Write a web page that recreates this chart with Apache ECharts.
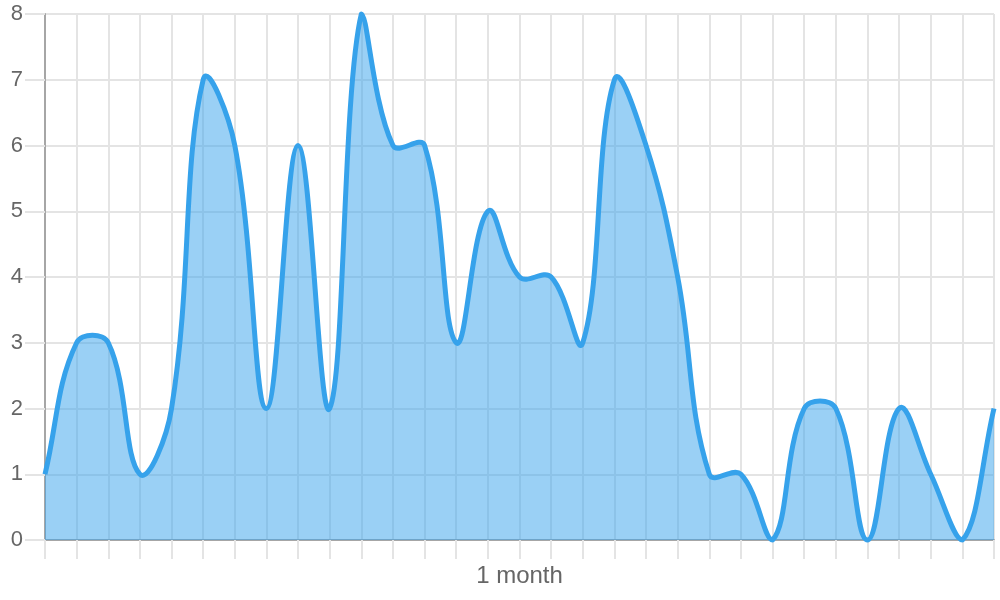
<!DOCTYPE html>
<html>
<head>
<meta charset="utf-8">
<script src="https://cdn.jsdelivr.net/npm/echarts@6/dist/echarts.min.js"></script>
<style>
html,body{margin:0;padding:0;background:#fff;}
#chart{width:1000px;height:600px;}
</style>
</head>
<body>
<div id="chart"></div>
<script>
var days = [];
for (var i = 0; i <= 30; i++) { days.push(String(i)); }
var values = [1, 3, 3, 1, 2, 7, 6, 2, 6, 2, 8, 6, 6, 3, 5, 4, 4, 3, 7, 6, 4, 1, 1, 0, 2, 2, 0, 2, 1, 0, 2];
var xAxisTitle = '1 month';
var yTicks = { min: 0, max: 8, interval: 1 };

var TENSION = 0.4;

// Chart.js-style cardinal spline control points, computed in pixel space
function controlPoints(pts, area) {
  var n = pts.length, cps = [];
  for (var i = 0; i < n; i++) {
    var cur = pts[i];
    var prev = pts[i - 1] || cur;
    var next = pts[i + 1] || cur;
    var d01 = Math.hypot(cur[0] - prev[0], cur[1] - prev[1]);
    var d12 = Math.hypot(next[0] - cur[0], next[1] - cur[1]);
    var s01 = d01 / (d01 + d12), s12 = d12 / (d01 + d12);
    if (!isFinite(s01)) s01 = 0;
    if (!isFinite(s12)) s12 = 0;
    var fa = TENSION * s01, fb = TENSION * s12;
    var cpP = [cur[0] - fa * (next[0] - prev[0]), cur[1] - fa * (next[1] - prev[1])];
    var cpN = [cur[0] + fb * (next[0] - prev[0]), cur[1] + fb * (next[1] - prev[1])];
    [cpP, cpN].forEach(function (c) {
      c[0] = Math.max(area.x, Math.min(area.x + area.width, c[0]));
      c[1] = Math.max(area.y, Math.min(area.y + area.height, c[1]));
    });
    cps.push({ prev: cpP, next: cpN });
  }
  return cps;
}

var chart = echarts.init(document.getElementById('chart'), null, { renderer: 'canvas' });
var font = "'Liberation Sans', Arial, sans-serif";
chart.setOption({
  animation: false,
  backgroundColor: '#ffffff',
  grid: { left: 45, right: 6, top: 14, bottom: 60, containLabel: false },
  xAxis: {
    type: 'category',
    data: days,
    boundaryGap: false,
    name: xAxisTitle,
    nameLocation: 'middle',
    nameGap: 24,
    nameTextStyle: { color: '#666666', fontSize: 24, fontFamily: font },
    axisLine: { show: true, lineStyle: { color: '#a6a6a6', width: 2 } },
    axisTick: { show: true, length: 19, interval: 0, lineStyle: { color: '#e4e4e4', width: 2 } },
    axisLabel: { show: false },
    splitLine: { show: true, interval: 0, lineStyle: { color: '#e4e4e4', width: 2 } }
  },
  yAxis: {
    type: 'value',
    min: yTicks.min,
    max: yTicks.max,
    interval: yTicks.interval,
    axisLine: { show: true, lineStyle: { color: '#a6a6a6', width: 2 } },
    axisTick: { show: true, length: 20, lineStyle: { color: '#e4e4e4', width: 2 } },
    axisLabel: { color: '#666666', fontSize: 22, fontFamily: font, margin: 22 },
    splitLine: { show: true, lineStyle: { color: '#e4e4e4', width: 2 } }
  },
  series: [{
    type: 'custom',
    coordinateSystem: 'cartesian2d',
    clip: false,
    data: values.map(function (v, i) { return [i, v]; }),
    encode: { x: 0, y: 1 },
    renderItem: function (params, api) {
      if (params.dataIndex !== 0) return null;
      var pts = values.map(function (v, i) { return api.coord([i, v]); });
      var area = params.coordSys;
      var cps = controlPoints(pts, area);
      var line = 'M' + pts[0][0] + ' ' + pts[0][1];
      for (var i = 0; i < pts.length - 1; i++) {
        var a = cps[i].next, b = cps[i + 1].prev, p = pts[i + 1];
        line += ' C' + a[0] + ' ' + a[1] + ' ' + b[0] + ' ' + b[1] + ' ' + p[0] + ' ' + p[1];
      }
      var base = api.coord([0, 0])[1];
      var fillPath = line + ' L' + pts[pts.length - 1][0] + ' ' + base + ' L' + pts[0][0] + ' ' + base + ' Z';
      return {
        type: 'group',
        children: [
          { type: 'path', shape: { pathData: fillPath }, style: { fill: 'rgba(54,162,235,0.5)', stroke: null } },
          { type: 'path', shape: { pathData: line }, style: { fill: null, stroke: '#36a2eb', lineWidth: 5, lineJoin: 'round', lineCap: 'butt' } }
        ]
      };
    }
  }]
});
</script>
</body>
</html>
